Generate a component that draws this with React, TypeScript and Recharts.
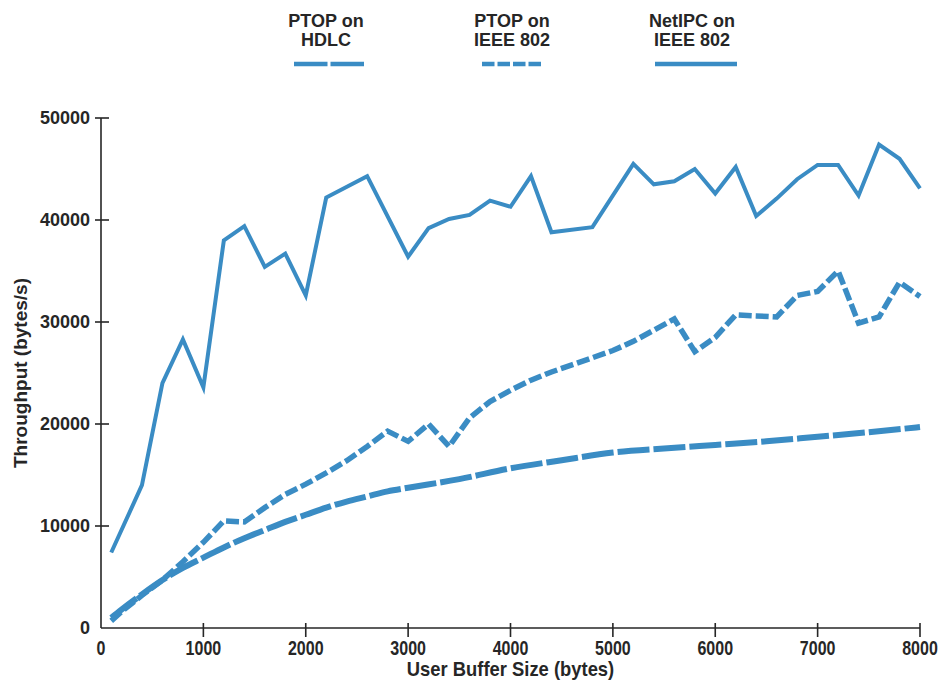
import { LineChart, Line, XAxis, YAxis } from 'recharts';

const BLUE = '#3a8cc4';
const INK = '#262626';
const SANS = "'Liberation Sans', Arial, Helvetica, sans-serif";

// NetIPC on IEEE 802 (solid, top curve)
const netipcSizes = [
  100, 400, 600, 800, 1000, 1200, 1400, 1600, 1800, 2000, 2200, 2600, 3000, 3200, 3400, 3600,
  3800, 4000, 4200, 4400, 4800, 5200, 5400, 5600, 5800, 6000, 6200, 6400, 6600, 6800, 7000,
  7200, 7400, 7600, 7800, 8000,
];
const netipcThroughput = [
  7400, 14000, 24000, 28300, 23600, 38000, 39400, 35400, 36700, 32600, 42200, 44300, 36400,
  39200, 40100, 40500, 41900, 41300, 44300, 38800, 39300, 45500, 43500, 43800, 45000, 42600,
  45200, 40400, 42100, 44000, 45400, 45400, 42400, 47400, 46000, 43100,
];

// PTOP on IEEE 802 (short dashes, middle curve)
const ieeeSizes = [
  100, 200, 400, 600, 800, 1000, 1200, 1400, 1600, 1800, 2000, 2200, 2400, 2600, 2800, 3000,
  3200, 3400, 3600, 3800, 4000, 4200, 4400, 4600, 4800, 5000, 5200, 5400, 5600, 5800, 6000,
  6200, 6400, 6600, 6800, 7000, 7200, 7400, 7600, 7800, 8000,
];
const ieeeThroughput = [
  700, 1600, 3200, 4700, 6500, 8400, 10500, 10400, 11800, 13100, 14100, 15200, 16400, 17800,
  19300, 18300, 20000, 17800, 20600, 22200, 23300, 24300, 25100, 25800, 26500, 27200, 28100,
  29200, 30300, 27100, 28500, 30700, 30600, 30500, 32600, 33000, 35000, 29900, 30500, 33900,
  32500,
];

// PTOP on HDLC (long dashes, bottom curve)
const hdlcSizes = [
  100, 200, 400, 600, 800, 1000, 1200, 1400, 1600, 1800, 2000, 2200, 2400, 2600, 2800, 3000,
  3500, 4000, 4500, 5000, 5500, 6000, 6500, 7000, 7500, 8000,
];
const hdlcThroughput = [
  1000, 1800, 3300, 4700, 5900, 6900, 7900, 8800, 9600, 10400, 11100, 11800, 12400, 12900,
  13400, 13750, 14600, 15650, 16450, 17200, 17600, 17950, 18300, 18750, 19200, 19700,
];

const xTicks = [0, 1000, 2000, 3000, 4000, 5000, 6000, 7000, 8000];
const yTicks = [0, 10000, 20000, 30000, 40000, 50000];

const toPoints = (sizes: number[], values: number[]) =>
  sizes.map((size, i) => ({ size, value: values[i] }));

const legendItems = [
  { lines: ['PTOP on', 'HDLC'], cx: 326, x1: 294, x2: 364, dash: '33.5 3' },
  { lines: ['PTOP on', 'IEEE 802'], cx: 512, x1: 482, x2: 541, dash: '12.5 3' },
  { lines: ['NetIPC on', 'IEEE 802'], cx: 692, x1: 655, x2: 737, dash: undefined },
];

function YTick({ x, y, payload }: any) {
  return (
    <g>
      {payload.value !== 0 && (
        <line x1={x - 6} x2={x + 8} y1={y} y2={y} stroke={INK} strokeWidth={1.6} />
      )}
      <text
        x={x - 11}
        y={y}
        textAnchor="end"
        dominantBaseline="central"
        fontFamily={SANS}
        fontWeight="bold"
        fontSize={18}
        fill={INK}
      >
        {payload.value}
      </text>
    </g>
  );
}

// the x labels are set in a condensed face; squeeze the regular one
function XTick({ x, y, payload }: any) {
  return (
    <g>
      {payload.value !== 0 && (
        <line x1={x} x2={x} y1={y - 5} y2={y + 9} stroke={INK} strokeWidth={1.6} />
      )}
      <text
        transform={`translate(${x} ${y + 20}) scale(0.8 1)`}
        textAnchor="middle"
        dominantBaseline="central"
        fontFamily={SANS}
        fontWeight="bold"
        fontSize={20}
        fill={INK}
      >
        {payload.value}
      </text>
    </g>
  );
}

function ChartLegend() {
  return (
    <svg width={940} height={80} style={{ position: 'absolute', left: 0, top: 0 }}>
      {legendItems.map((item) => (
        <g key={item.cx}>
          {item.lines.map((t, i) => (
            <text
              key={t}
              x={item.cx}
              y={26.5 + i * 19.5}
              textAnchor="middle"
              fontFamily={SANS}
              fontWeight="bold"
              fontSize={18}
              fill={INK}
            >
              {t}
            </text>
          ))}
          <line
            x1={item.x1}
            x2={item.x2}
            y1={64}
            y2={64}
            stroke={BLUE}
            strokeWidth={4.5}
            strokeDasharray={item.dash}
          />
        </g>
      ))}
    </svg>
  );
}

export default function App() {
  return (
    <div style={{ position: 'absolute', left: 0, top: 0, width: 940, height: 682, background: '#fff' }}>
      <ChartLegend />
      <LineChart width={940} height={682} margin={{ top: 118, right: 20, bottom: 14, left: 11 }}>
        <XAxis
          dataKey="size"
          type="number"
          domain={[0, 8000]}
          ticks={xTicks}
          interval={0}
          tick={<XTick />}
          tickSize={0}
          tickMargin={0}
          tickLine={false}
          axisLine={{ stroke: INK, strokeWidth: 1.6 }}
          height={40}
          label={{
            content: ({ viewBox }: any) => {
              const cx = viewBox.x + viewBox.width / 2;
              const by = viewBox.y + 48;
              return (
                <text
                  transform={`translate(${cx} ${by}) scale(0.92 1)`}
                  textAnchor="middle"
                  fontFamily={SANS}
                  fontWeight="bold"
                  fontSize={20}
                  fill={INK}
                >
                  User Buffer Size (bytes)
                </text>
              );
            },
          }}
        />
        <YAxis
          type="number"
          domain={[0, 50000]}
          ticks={yTicks}
          interval={0}
          tick={<YTick />}
          tickSize={0}
          tickMargin={0}
          tickLine={false}
          axisLine={{ stroke: INK, strokeWidth: 1.6 }}
          width={90}
          label={{
            content: ({ viewBox }: any) => {
              const cx = viewBox.x + 9;
              const cy = viewBox.y + viewBox.height / 2;
              return (
                <text
                  x={cx}
                  y={cy}
                  transform={`rotate(-90 ${cx} ${cy})`}
                  textAnchor="middle"
                  dominantBaseline="central"
                  fontFamily={SANS}
                  fontWeight="bold"
                  fontSize={19}
                  fill={INK}
                >
                  Throughput (bytes/s)
                </text>
              );
            },
          }}
        />
        <Line
          data={toPoints(hdlcSizes, hdlcThroughput)}
          dataKey="value"
          type="monotone"
          stroke={BLUE}
          strokeWidth={6}
          strokeDasharray="32 4"
          dot={false}
          isAnimationActive={false}
        />
        <Line
          data={toPoints(ieeeSizes, ieeeThroughput)}
          dataKey="value"
          type="linear"
          stroke={BLUE}
          strokeWidth={5.5}
          strokeDasharray="13 4"
          dot={false}
          isAnimationActive={false}
        />
        <Line
          data={toPoints(netipcSizes, netipcThroughput)}
          dataKey="value"
          type="linear"
          stroke={BLUE}
          strokeWidth={4}
          dot={false}
          isAnimationActive={false}
        />
      </LineChart>
    </div>
  );
}
